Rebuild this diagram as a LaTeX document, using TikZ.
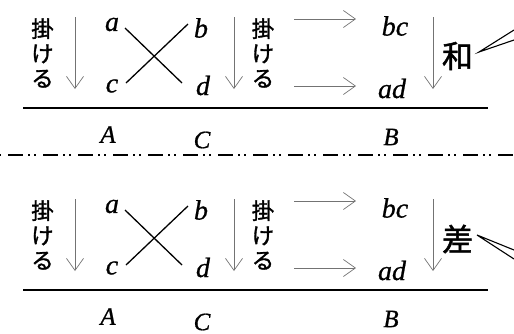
\documentclass[tikz,border=0pt]{standalone}
\usepackage{fontspec}
\setmainfont{Liberation Serif}
\newfontfamily\vf[ItalicFeatures={FakeBold=0.7}]{Liberation Serif}
\newfontfamily\jp[FakeBold=1.5]{Noto Sans CJK JP}
\usetikzlibrary{arrows.meta}
\begin{document}
\begin{tikzpicture}[x=1pt,y=-1pt,
  ar/.style={draw=black!55, line width=0.7pt, -{Straight Barb[length=12pt,width=17pt,line width=0.7pt]}},
  var/.style={inner sep=0pt, font=\vf\fontsize{28}{28}\selectfont\itshape},
  caplbl/.style={inner sep=0pt, font=\vf\fontsize{25}{25}\selectfont\itshape},
  jpv/.style={inner sep=0pt, align=center, font=\jp\fontsize{22.5}{24.8}\selectfont},
  big/.style={inner sep=0pt, font=\jp\fontsize{31}{31}\selectfont},
  cross/.style={line width=1.3pt},
  rulel/.style={line width=1.5pt},
  callout/.style={line width=1.1pt},
  sep/.style={line width=1.5pt, dash pattern=on 15pt off 5pt on 2pt off 4pt on 2pt off 7pt, dash phase=27pt}]
\useasboundingbox (0,0) rectangle (514,333);
\clip (0,0) rectangle (514,333);

% ---------- top ----------
\node[jpv] (tk1) at (42.5,53) {掛\\け\\る};
\coordinate (ta1s) at (75,17); \coordinate (ta1e) at (75,89);
\draw[ar] (ta1s) -- (ta1e);
\node[var] (ta) at (112,24.5) {a};
\node[var] (tc) at (112,86) {c};
\node[var] (tb) at (201,28) {b};
\node[var] (td) at (203,85.5) {d};
\coordinate (tx1s) at (125,28); \coordinate (tx1e) at (182,83);
\coordinate (tx2s) at (126,83); \coordinate (tx2e) at (188,24);
\draw[cross] (tx1s) -- (tx1e);
\draw[cross] (tx2s) -- (tx2e);
\coordinate (ta2s) at (234,17); \coordinate (ta2e) at (234,89);
\draw[ar] (ta2s) -- (ta2e);
\node[jpv] (tk2) at (263,53) {掛\\け\\る};
\coordinate (tr1s) at (294,19); \coordinate (tr1e) at (356,19);
\coordinate (tr2s) at (294,86); \coordinate (tr2e) at (356,86);
\draw[ar] (tr1s) -- (tr1e);
\draw[ar] (tr2s) -- (tr2e);
\node[var] (tbc) at (395,26) {bc};
\node[var] (tad) at (392,88.5) {ad};
\coordinate (ta3s) at (433,17); \coordinate (ta3e) at (433,89);
\draw[ar] (ta3s) -- (ta3e);
\node[big] (twa) at (457.5,56) {和};
\coordinate (tcp) at (479,52);
\coordinate (tc1) at (514,30); \coordinate (tc2) at (514,40);
\draw[callout] (tc1) -- (tcp) -- (tc2);
\coordinate (tls) at (23,108); \coordinate (tle) at (488,108);
\draw[rulel] (tls) -- (tle);
\node[caplbl] (tA) at (108,134.5) {A};
\node[caplbl] (tC) at (202,140) {C};
\node[caplbl] (tB) at (391,137) {B};

% ---------- separator ----------
\coordinate (ss) at (0,155); \coordinate (se) at (514,155);
\draw[sep] (ss) -- (se);

% ---------- bottom ----------
\begin{scope}[yshift=-182pt]
\node[jpv] (bk1) at (42.5,53) {掛\\け\\る};
\coordinate (ba1s) at (75,17); \coordinate (ba1e) at (75,89);
\draw[ar] (ba1s) -- (ba1e);
\node[var] (ba) at (112,24.5) {a};
\node[var] (bc) at (112,86) {c};
\node[var] (bb) at (201,28) {b};
\node[var] (bd) at (203,85.5) {d};
\coordinate (bx1s) at (125,28); \coordinate (bx1e) at (182,83);
\coordinate (bx2s) at (126,83); \coordinate (bx2e) at (188,24);
\draw[cross] (bx1s) -- (bx1e);
\draw[cross] (bx2s) -- (bx2e);
\coordinate (ba2s) at (234,17); \coordinate (ba2e) at (234,89);
\draw[ar] (ba2s) -- (ba2e);
\node[jpv] (bk2) at (263,53) {掛\\け\\る};
\coordinate (br1s) at (294,19); \coordinate (br1e) at (356,19);
\coordinate (br2s) at (294,86); \coordinate (br2e) at (356,86);
\draw[ar] (br1s) -- (br1e);
\draw[ar] (br2s) -- (br2e);
\node[var] (bbc) at (395,26) {bc};
\node[var] (bad) at (392,88.5) {ad};
\coordinate (ba3s) at (433,17); \coordinate (ba3e) at (433,89);
\draw[ar] (ba3s) -- (ba3e);
\node[big] (bsa) at (457.5,57) {差};
\coordinate (bcp) at (477,53);
\coordinate (bc1) at (514,68); \coordinate (bc2) at (514,77);
\draw[callout] (bc1) -- (bcp) -- (bc2);
\coordinate (bls) at (23,108); \coordinate (ble) at (488,108);
\draw[rulel] (bls) -- (ble);
\node[caplbl] (bA) at (108,134.5) {A};
\node[caplbl] (bC) at (202,140) {C};
\node[caplbl] (bB) at (391,137) {B};
\end{scope}
\end{tikzpicture}
\end{document}
